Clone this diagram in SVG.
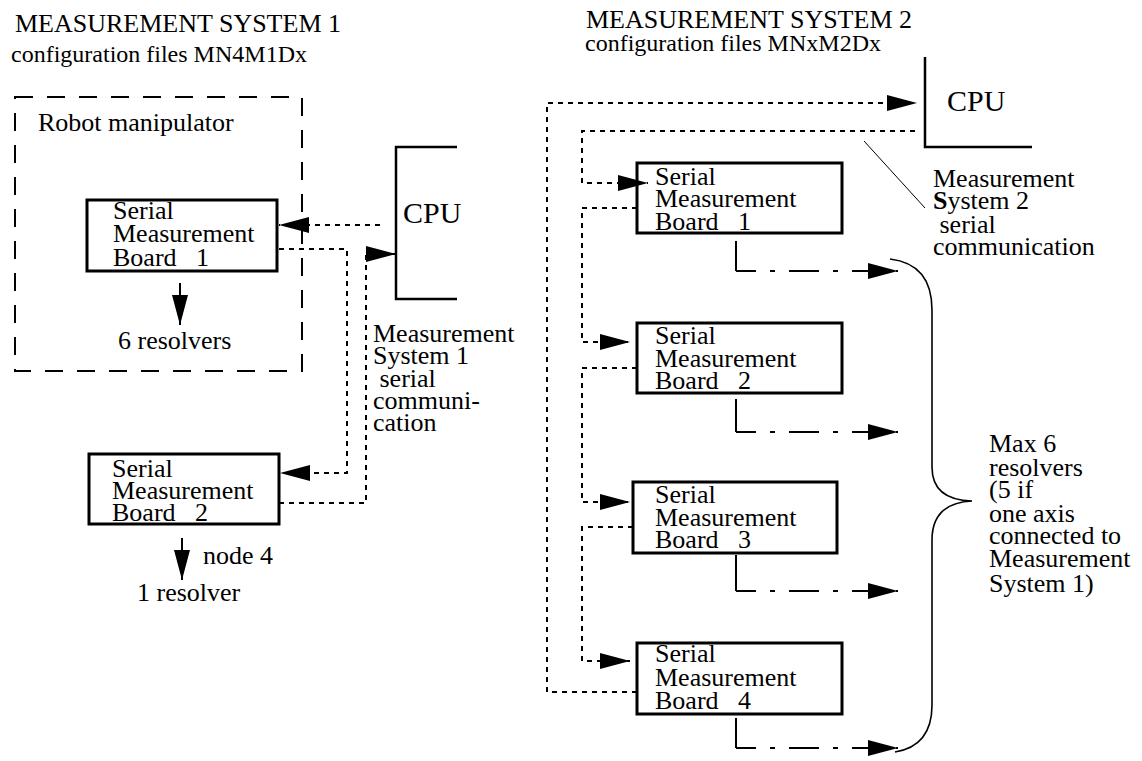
<svg xmlns="http://www.w3.org/2000/svg" width="1142" height="761" viewBox="0 0 1142 761">
<style>
text{font-family:"Liberation Serif","Times New Roman",serif;fill:#000}
.t26{font-size:26px}
.t24{font-size:24px}
.cpu{font-size:30px}
.box{fill:#fff;stroke:#000;stroke-width:3}
.dot{fill:none;stroke:#000;stroke-width:2;stroke-dasharray:5,5}
.dd{fill:none;stroke:#000;stroke-width:2;stroke-dasharray:30,14,5,14;stroke-dashoffset:10}
.sol{fill:none;stroke:#000;stroke-width:2}
.brk{fill:none;stroke:#000;stroke-width:2.5}
</style>
<defs>
<marker id="ah" markerUnits="userSpaceOnUse" markerWidth="30" markerHeight="16" refX="30" refY="8" orient="auto" viewBox="0 0 30 16"><path d="M0,0 L30,8 L0,16 z" fill="#000"/></marker>
</defs>
<rect width="1142" height="761" fill="#fff"/>

<g id="titles">
<text class="t26" x="15" y="32">MEASUREMENT SYSTEM 1</text>
<text class="t24" x="11" y="62">configuration files MN4M1Dx</text>
<text class="t26" x="586" y="28">MEASUREMENT SYSTEM 2</text>
<text class="t24" x="585" y="51">configuration files MNxM2Dx</text>
</g>

<g id="robot">
<rect x="15" y="97" width="287" height="274" fill="none" stroke="#000" stroke-width="2" stroke-dasharray="18,14"/>
<text class="t26" x="38" y="131">Robot manipulator</text>
</g>

<g id="cpu1">
<path class="brk" d="M457,147 H396 V299 H457"/>
<text class="cpu" x="403" y="223">CPU</text>
</g>

<g id="s1b1">
<rect class="box" x="87" y="200" width="190" height="71"/>
<text class="t26" x="113" xml:space="preserve"><tspan x="113" y="219">Serial</tspan><tspan x="113" y="242">Measurement</tspan><tspan x="113" y="266">Board   1</tspan></text>
</g>

<g id="s1b2">
<rect class="box" x="89" y="454" width="190" height="70"/>
<text class="t26" x="112" xml:space="preserve"><tspan x="112" y="477">Serial</tspan><tspan x="112" y="499">Measurement</tspan><tspan x="112" y="521">Board   2</tspan></text>
</g>

<g id="s1labels">
<text class="t26" x="118" y="349">6 resolvers</text>
<text class="t26" x="203" y="564">node 4</text>
<text class="t26" x="137" y="601">1 resolver</text>
<text class="t26" xml:space="preserve"><tspan x="373" y="342">Measurement</tspan><tspan x="373" y="364">System 1</tspan><tspan x="373" y="387"> serial</tspan><tspan x="373" y="409">communi-</tspan><tspan x="373" y="431">cation</tspan></text>
</g>

<g id="cpu2">
<path class="brk" d="M925,57 V147 H1032"/>
<text class="cpu" x="947" y="111">CPU</text>
</g>

<g id="s2b1">
<rect class="box" x="637" y="163" width="205" height="70"/>
<text class="t26" xml:space="preserve"><tspan x="655" y="185">Serial</tspan><tspan x="655" y="207">Measurement</tspan><tspan x="655" y="230">Board   1</tspan></text>
</g>
<g id="s2b2">
<rect class="box" x="637" y="323" width="205" height="70"/>
<text class="t26" xml:space="preserve"><tspan x="655" y="344">Serial</tspan><tspan x="655" y="367">Measurement</tspan><tspan x="655" y="389">Board   2</tspan></text>
</g>
<g id="s2b3">
<rect class="box" x="633" y="482" width="204" height="71"/>
<text class="t26" xml:space="preserve"><tspan x="655" y="503">Serial</tspan><tspan x="655" y="526">Measurement</tspan><tspan x="655" y="548">Board   3</tspan></text>
</g>
<g id="s2b4">
<rect class="box" x="637" y="643" width="205" height="71"/>
<text class="t26" xml:space="preserve"><tspan x="655" y="662">Serial</tspan><tspan x="655" y="686">Measurement</tspan><tspan x="655" y="709">Board   4</tspan></text>
</g>

<g id="s2labels">
<text class="t26" xml:space="preserve"><tspan x="933" y="187">Measurement</tspan><tspan x="933" y="209"><tspan font-weight="bold">S</tspan>ystem 2</tspan><tspan x="933" y="233"> serial</tspan><tspan x="933" y="255">communication</tspan></text>
<text class="t26"><tspan x="989" y="452">Max 6</tspan><tspan x="989" y="476">resolvers</tspan><tspan x="989" y="498">(5 if</tspan><tspan x="989" y="522">one axis</tspan><tspan x="989" y="544">connected to</tspan><tspan x="989" y="567">Measurement</tspan><tspan x="989" y="592">System 1)</tspan></text>
</g>

<g id="connectors">
<!-- system 1 -->
<path class="dot" d="M380,225 H279" marker-end="url(#ah)"/>
<path class="dot" d="M279,249 H347 V473 H280" marker-end="url(#ah)"/>
<path class="dot" d="M279,503 H366 V254 H396" marker-end="url(#ah)"/>
<path class="sol" d="M180,283 V325" marker-end="url(#ah)"/>
<path class="sol" d="M182,538 V580" marker-end="url(#ah)"/>
<!-- system 2 -->
<path class="dot" d="M915,131 H582 V183 H648" marker-end="url(#ah)"/>
<path class="dot" d="M637,208 H582 V342 H630" marker-end="url(#ah)"/>
<path class="dot" d="M637,368 H582 V502 H630" marker-end="url(#ah)"/>
<path class="dot" d="M633,527 H582 V661 H630" marker-end="url(#ah)"/>
<path class="dot" d="M637,692 H547 V103 H917" marker-end="url(#ah)"/>
<path class="sol" d="M736,241 V271"/>
<path class="dd" d="M736,271 H898" marker-end="url(#ah)"/>
<path class="sol" d="M736,399 V432"/>
<path class="dd" d="M736,432 H898" marker-end="url(#ah)"/>
<path class="sol" d="M736,555 V591"/>
<path class="dd" d="M736,591 H898" marker-end="url(#ah)"/>
<path class="sol" d="M736,718 V748"/>
<path class="dd" d="M736,748 H898" marker-end="url(#ah)"/>
<path d="M864,141 L925,208" fill="none" stroke="#000" stroke-width="1"/>
<path d="M890,259 Q932,264 932,310 V467 Q932,500 972,501 Q932,503 932,540 V705 Q932,746 895,752" fill="none" stroke="#000" stroke-width="1.6"/>
</g>
</svg>
